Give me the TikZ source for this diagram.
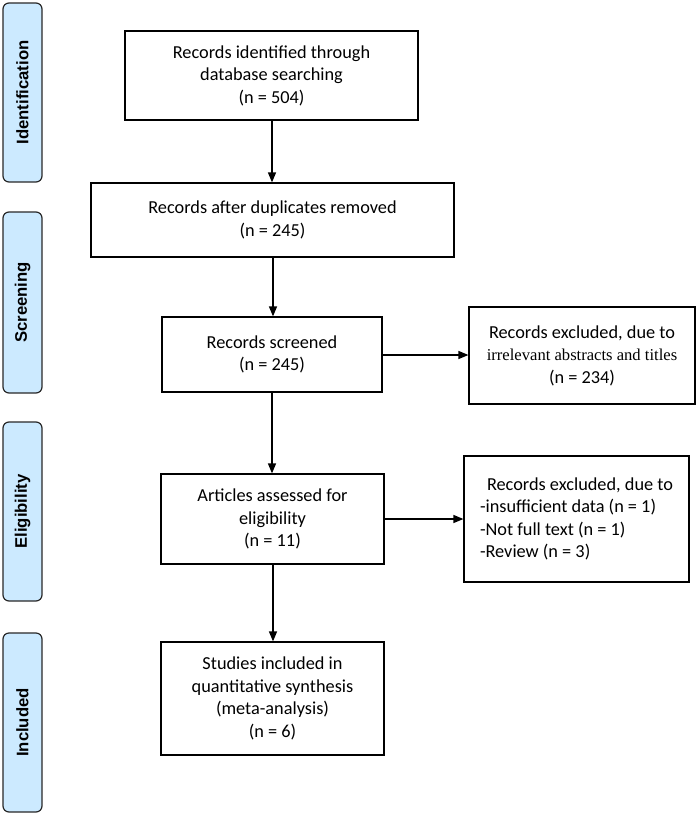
\documentclass[tikz,border=0pt]{standalone}
\usepackage{fontspec}
\setmainfont{Carlito}
\newfontfamily\timesf{Liberation Serif}
\newfontfamily\arialf{Liberation Sans}
\usetikzlibrary{arrows.meta}
\definecolor{sidefill}{RGB}{204,234,255}
\definecolor{sidedraw}{RGB}{40,40,40}
\begin{document}
\begin{tikzpicture}[x=1pt,y=-1pt,
  mainbox/.style={draw=black, line width=1.2pt, rectangle, inner sep=0pt, align=center,
    font=\fontsize{18.3}{22.5}\selectfont},
  sidebox/.style={draw=sidedraw, fill=sidefill, line width=1.2pt, rounded corners=6pt,
    inner sep=0pt, minimum width=39pt, minimum height=179pt},
  sidelabel/.style={rotate=90, font=\arialf\bfseries\fontsize{16.7}{20}\selectfont},
  flow/.style={line width=1.3pt, -{Triangle[length=10pt,width=8pt]}}
]
\useasboundingbox (0,0) rectangle (697,815);

% side stage boxes
\node[sidebox] (s1) at (22.5,92.5) {};
\node[sidelabel] (l1) at (s1.center) {Identification};
\node[sidebox, minimum height=181pt] (s2) at (22.5,302.5) {};
\node[sidelabel] (l2) at (s2.center) {Screening};
\node[sidebox] (s3) at (22.5,511.5) {};
\node[sidelabel] (l3) at (s3.center) {Eligibility};
\node[sidebox] (s4) at (22.5,722.5) {};
\node[sidelabel] (l4) at (s4.center) {Included};

% main boxes
\node[mainbox, minimum width=293pt, minimum height=89pt] (b1) at (271.5,75.5)
  {Records identified through\\database searching\\(n = 504)};
\node[mainbox, minimum width=363pt, minimum height=74pt] (b2) at (272.5,220)
  {Records after duplicates removed\\(n = 245)};
\node[mainbox, minimum width=220pt, minimum height=75pt] (b3) at (272,354.5)
  {Records screened\\(n = 245)};
\node[mainbox, minimum width=223pt, minimum height=90pt] (b4) at (272.5,519)
  {Articles assessed for\\eligibility\\(n = 11)};
\node[mainbox, minimum width=223pt, minimum height=113pt] (b5) at (272.5,698.5)
  {Studies included in\\quantitative synthesis\\(meta-analysis)\\(n = 6)};

% exclusion boxes
\node[mainbox, minimum width=226pt, minimum height=97pt] (e1) at (582,355.5)
  {Records excluded, due to\\{\timesf\fontsize{16.6}{22.5}\selectfont irrelevant abstracts and titles}\\(n = 234)};
\node[mainbox, minimum width=225pt, minimum height=126pt, align=left] (e2) at (576.5,519)
  {\hspace{7pt}Records excluded, due to\\-insufficient data (n = 1)\\-Not full text (n = 1)\\-Review (n = 3)};

% connectors
\draw[flow] (b1.south -| 272,0) -- (b2.north -| 272,0);
\draw[flow] (b2.south -| 273,0) -- (b3.north -| 273,0);
\draw[flow] (b3.south -| 272,0) -- (b4.north -| 272,0);
\draw[flow] (b4.south -| 273,0) -- (b5.north -| 273,0);
\draw[flow] (b3.east |- 0,355) -- (e1.west |- 0,355);
\draw[flow] (b4.east |- 0,519) -- (e2.west |- 0,519);
\end{tikzpicture}
\end{document}
